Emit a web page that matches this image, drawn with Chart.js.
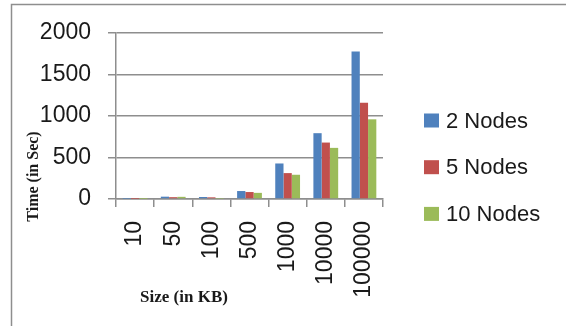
<!DOCTYPE html>
<html>
<head>
<meta charset="utf-8">
<script src="https://cdn.jsdelivr.net/npm/chart.js@4.4.1/dist/chart.umd.min.js"></script>
<style>
  html, body { margin: 0; padding: 0; background: #ffffff; }
  #wrap { width: 566px; height: 326px; position: relative; }
</style>
</head>
<body>
<div id="wrap"><canvas id="chart" width="566" height="326"></canvas></div>
<script>
// File sizes (KB) on the category axis
const sizes = ['10', '50', '100', '500', '1000', '10000', '100000'];

// Processing time in seconds for each cluster size
const nodes2 = [2, 28, 24, 96, 428, 793, 1776];
const nodes5 = [1, 22, 20, 84, 312, 680, 1160];
const nodes10 = [1, 26, 4, 74, 292, 616, 960];

const seriesNames = ['2 Nodes', '5 Nodes', '10 Nodes'];
const seriesColors = ['#4f81bd', '#c0504d', '#9bbb59'];
const yTicks = [0, 500, 1000, 1500, 2000];

const xTitle = 'Size (in KB)';
const yTitle = 'Time (in Sec)';

const gridGray = '#8e8e8e';
const sansFont = '"Liberation Sans", Arial, sans-serif';

// Frame lines, the two axis titles and the series key on the right
const decorations = {
  id: 'decorations',
  beforeDraw(chart) {
    const ctx = chart.ctx;
    ctx.save();
    ctx.strokeStyle = gridGray;
    ctx.lineWidth = 1.5;
    ctx.beginPath();
    ctx.moveTo(11.5, 326);
    ctx.lineTo(11.5, 4.5);
    ctx.lineTo(566, 4.5);
    ctx.stroke();
    ctx.restore();
  },
  afterDraw(chart) {
    const ctx = chart.ctx;
    const area = chart.chartArea;
    ctx.save();
    ctx.fillStyle = '#1a1a1a';
    ctx.font = 'bold 17px "Liberation Serif", "Times New Roman", serif';
    ctx.textAlign = 'center';
    ctx.textBaseline = 'middle';
    ctx.fillText(xTitle, area.left + 68, 298);
    ctx.save();
    ctx.translate(34, 176.5);
    ctx.rotate(-Math.PI / 2);
    ctx.font = 'bold 16px "Liberation Serif", "Times New Roman", serif';
    ctx.fillText(yTitle, 0, 0);
    ctx.restore();

    // key: one swatch + name per dataset
    const keyX = area.right + 41;
    const firstY = 120.5;
    const rowStep = 46.7;
    ctx.font = '22px ' + sansFont;
    ctx.textAlign = 'left';
    chart.data.datasets.forEach((ds, i) => {
      const cy = firstY + i * rowStep;
      ctx.fillStyle = ds.backgroundColor;
      ctx.fillRect(keyX, cy - 7, 15, 14);
      ctx.fillStyle = '#1a1a1a';
      ctx.fillText(ds.label, keyX + 22, cy + 1);
    });
    ctx.restore();
  }
};

new Chart(document.getElementById('chart'), {
  type: 'bar',
  data: {
    labels: sizes,
    datasets: [
      { label: seriesNames[0], data: nodes2, backgroundColor: seriesColors[0] },
      { label: seriesNames[1], data: nodes5, backgroundColor: seriesColors[1] },
      { label: seriesNames[2], data: nodes10, backgroundColor: seriesColors[2] }
    ]
  },
  options: {
    responsive: false,
    animation: false,
    devicePixelRatio: 1,
    layout: { padding: { top: 33, right: 183, bottom: 0, left: 0 } },
    datasets: { bar: { categoryPercentage: 0.65, barPercentage: 1.0, borderWidth: 0 } },
    plugins: {
      legend: { display: false },
      tooltip: { enabled: false }
    },
    scales: {
      x: {
        grid: {
          display: true,
          drawOnChartArea: false,
          drawTicks: true,
          tickLength: 8,
          color: gridGray,
          lineWidth: 1.5,
          offset: true
        },
        border: { display: true, color: gridGray, width: 1.5 },
        ticks: {
          minRotation: 90,
          maxRotation: 90,
          padding: 14,
          color: '#1a1a1a',
          font: { family: sansFont, size: 23 }
        },
        afterFit(scale) { scale.height = 127; }
      },
      y: {
        min: 0,
        max: 2000,
        afterBuildTicks(scale) { scale.ticks = yTicks.map(v => ({ value: v })); },
        grid: { color: gridGray, lineWidth: 1.5, tickLength: 8 },
        border: { display: true, color: gridGray, width: 1.5 },
        ticks: {
          padding: 17,
          color: '#1a1a1a',
          font: { family: sansFont, size: 23 },
          callback: (v) => String(v)
        },
        afterFit(scale) { scale.width = 116; }
      }
    }
  },
  plugins: [decorations]
});
</script>
</body>
</html>
